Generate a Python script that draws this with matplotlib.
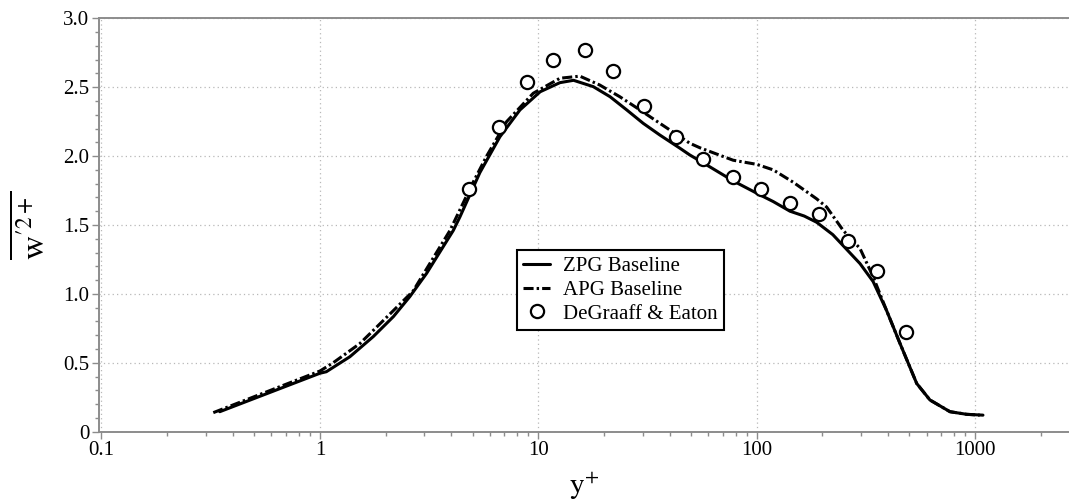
import matplotlib
matplotlib.use("Agg")
import matplotlib.pyplot as plt
from matplotlib.ticker import FixedLocator, FuncFormatter, LogLocator, MultipleLocator, NullFormatter

# ZPG baseline profile
zpg_yplus = [0.348, 1.0, 1.07, 1.372, 1.755, 2.17, 2.58, 3.08, 3.67, 4.08, 4.38, 5.40, 6.67,
             8.24, 10.2, 12.56, 14.5, 17.85, 21.3, 25.4, 30.2, 36.0, 44.5, 49.4, 57, 78,
             103, 119, 142, 165, 188, 223, 297, 341, 393, 453, 540, 621, 767, 914, 1086]
zpg_w2 = [0.145, 0.424, 0.435, 0.544, 0.69, 0.835, 0.98, 1.149, 1.343, 1.46, 1.56, 1.88,
          2.14, 2.335, 2.467, 2.533, 2.55, 2.504, 2.431, 2.335, 2.238, 2.153, 2.057, 2.008,
          1.95, 1.82, 1.72, 1.67, 1.60, 1.565, 1.52, 1.43, 1.22, 1.09, 0.88, 0.64, 0.35,
          0.23, 0.145, 0.126, 0.12]

# APG baseline profile
apg_yplus = [0.325, 1.0, 1.15, 1.525, 2.02, 2.67, 3.42, 3.94, 4.53, 5.03, 5.8, 7.16, 9.48,
             12.56, 15.5, 19.1, 23.6, 29.2, 36.0, 44.5, 49.4, 55, 78, 100, 119, 147, 188,
             209, 249, 297, 341, 393, 453, 540, 621, 767, 914, 1050]
apg_w2 = [0.138, 0.44, 0.50, 0.64, 0.83, 1.02, 1.30, 1.46, 1.66, 1.81, 2.0, 2.25, 2.456,
          2.565, 2.58, 2.516, 2.431, 2.335, 2.238, 2.141, 2.093, 2.06, 1.97, 1.94, 1.90,
          1.81, 1.69, 1.63, 1.46, 1.33, 1.125, 0.88, 0.64, 0.35, 0.23, 0.145, 0.126, 0.12]

# DeGraaff & Eaton measurements
exp_yplus = [4.81, 6.60, 8.87, 11.7, 16.3, 22.0, 30.5, 42.7, 56.9, 77.6, 104.5, 141.9,
             192.7, 262.4, 356.3, 482]
exp_w2 = [1.761, 2.211, 2.54, 2.697, 2.77, 2.62, 2.364, 2.141, 1.977, 1.851, 1.759,
          1.657, 1.578, 1.386, 1.164, 0.726]

x_ticks = [0.1, 1, 10, 100, 1000]
x_ticklabels = ["0.1", "1", "10", "100", "1000"]

plt.rcParams["font.family"] = ["Liberation Serif", "DejaVu Serif"]
plt.rcParams["mathtext.fontset"] = "stix"

fig = plt.figure(figsize=(10.69, 5.04), dpi=100)
ax = fig.add_axes([0.0926, 0.1435, 0.9074, 0.8202])

ax.plot(zpg_yplus, zpg_w2, color="black", lw=2.2, solid_capstyle="round",
        solid_joinstyle="round", label="ZPG Baseline", zorder=3)
ax.plot(apg_yplus, apg_w2, color="black", lw=2.2, dashes=(3.3, 1.0, 0.8, 1.0),
        dash_joinstyle="round", label="APG Baseline", zorder=3)
ax.plot(exp_yplus, exp_w2, linestyle="none", marker="o", markersize=9.5,
        markerfacecolor="white", markeredgecolor="black", markeredgewidth=1.6,
        label="DeGraaff & Eaton", zorder=4)

ax.set_xscale("log")
ax.set_xlim(0.0974, 2690)
ax.set_ylim(0, 3.0)

ax.xaxis.set_major_locator(FixedLocator(x_ticks))
ax.xaxis.set_major_formatter(FuncFormatter(
    lambda v, p: x_ticklabels[x_ticks.index(v)] if v in x_ticks else ""))
ax.xaxis.set_minor_locator(LogLocator(base=10, subs=range(2, 10)))
ax.xaxis.set_minor_formatter(NullFormatter())

ax.yaxis.set_major_locator(MultipleLocator(0.5))
ax.yaxis.set_minor_locator(MultipleLocator(0.1))
ax.yaxis.set_major_formatter(FuncFormatter(lambda v, p: "0" if abs(v) < 1e-9 else f"{v:.1f}"))

spine_color = "#8c8c8c"
ax.spines["right"].set_visible(False)
for side in ("left", "bottom", "top"):
    ax.spines[side].set_color(spine_color)
    ax.spines[side].set_linewidth(1.4)

ax.tick_params(which="major", direction="out", length=5, width=1.0, color=spine_color,
               labelsize=15, labelcolor="black", pad=2)
ax.tick_params(which="minor", direction="out", length=3, width=1.0, color=spine_color)

ax.grid(True, which="major", color="#b8b8b8", linestyle=(0, (1, 2.5)), linewidth=0.9)
ax.set_axisbelow(True)

ax.set_xlabel(r"$\mathrm{y}^{+}$", fontsize=21, labelpad=7)
ax.set_ylabel(r"$\overline{\mathrm{w}^{\mathrm{\prime}2+}}$", fontsize=24, labelpad=8)

leg = ax.legend(loc="lower left", bbox_to_anchor=(0.431, 0.246), fontsize=15,
                frameon=True, fancybox=False, edgecolor="black", framealpha=1,
                handlelength=1.3, handletextpad=0.6, labelspacing=0.2,
                borderpad=0.3, borderaxespad=0)
leg.get_frame().set_linewidth(1.5)

fig.savefig("out.png", dpi=100)
